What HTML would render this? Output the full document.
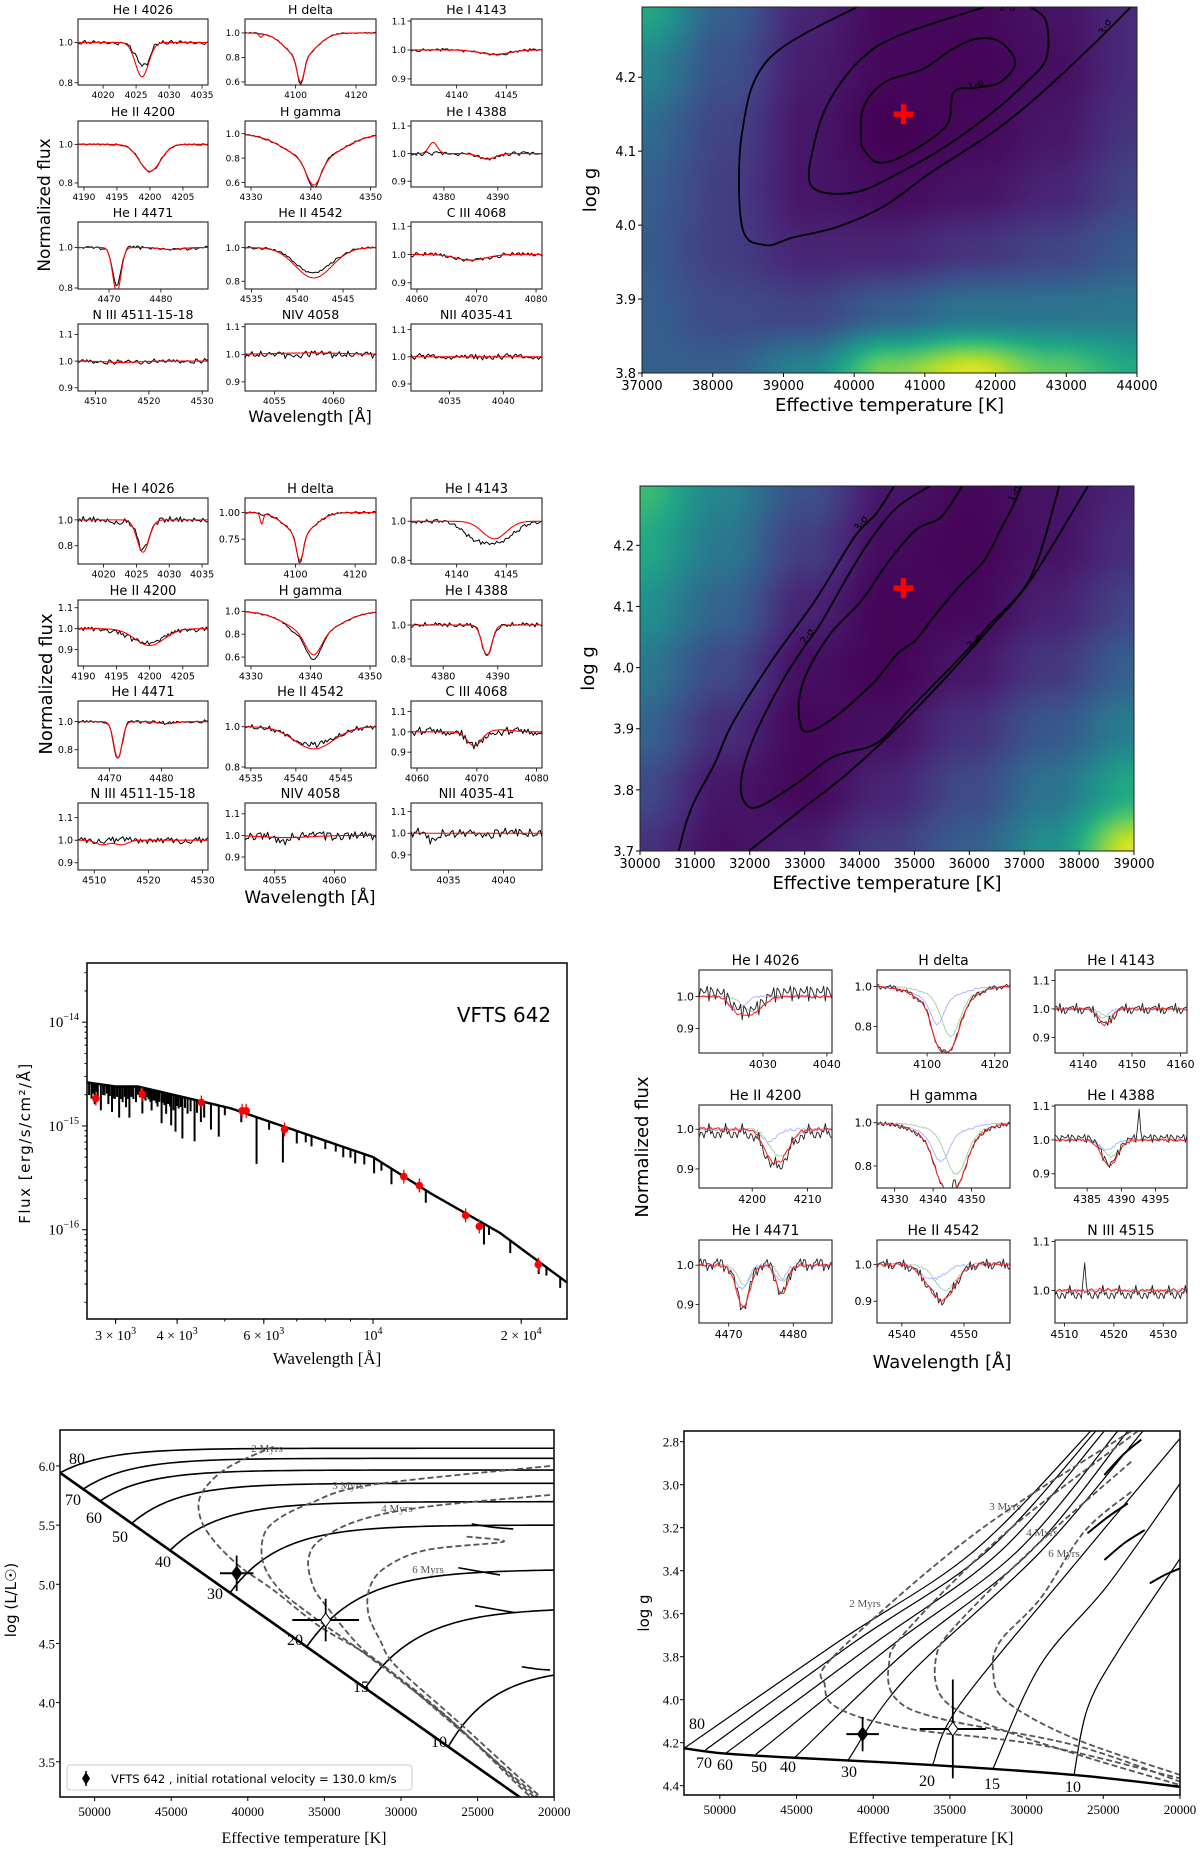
<!DOCTYPE html>
<html><head><meta charset="utf-8"><style>
body{margin:0;background:#fff}
#wrap{position:relative;width:1200px;height:1849px;overflow:hidden}
canvas,svg{position:absolute;left:0;top:0}
</style></head><body>
<div id="wrap">
<canvas id="cv" width="1200" height="1849"></canvas>
<svg id="sv" width="1200" height="1849" xmlns="http://www.w3.org/2000/svg"></svg>
</div>
<script>
// ---------------- DATA ----------------
const noise=[0.3,-0.5,0.8,-0.2,-0.9,0.4,0.1,-0.6,0.7,-0.3,0.9,-0.8,0.2,0.5,-0.4,-0.1,0.6,-0.7,0.3,-0.9,0.8,0.0,-0.5,0.4,-0.2,0.7,-0.6,0.1,0.9,-0.3,-0.8,0.5,0.2,-0.4,0.6,-0.1,-0.7,0.3,0.8,-0.5,0.1,-0.9,0.4,0.6,-0.2,-0.6,0.7,-0.3,0.2,-0.8];
const lineTitles=['He I 4026','H delta','He I 4143','He II 4200','H gamma','He I 4388','He I 4471','He II 4542','C III 4068','N III 4511-15-18','NIV 4058','NII 4035-41'];
const specXticks=[[4020,4025,4030,4035],[4100,4120],[4140,4145],[4190,4195,4200,4205],[4330,4340,4350],[4380,4390],[4470,4480],[4535,4540,4545],[4060,4070,4080],[4510,4520,4530],[4055,4060],[4035,4040]];
const r1Xlim=[[4016.2,4035.9],[4083.3,4126.6],[4135.4,4148.6],[4189.1,4208.8],[4329,4350.9],[4373.9,4398.2],[4464,4489.1],[4534.3,4548.6],[4059,4081],[4506.7,4531.1],[4052.5,4063.6],[4031.4,4043.6]];
const r1Ylim=[[0.789,1.116],[0.575,1.114],[0.879,1.107],[0.779,1.121],[0.564,1.104],[0.879,1.118],[0.795,1.126],[0.754,1.152],[0.878,1.115],[0.888,1.139],[0.867,1.11],[0.874,1.121]];
const r1Yticks=[['0.8','1.0'],['0.6','0.8','1.0'],['0.9','1.0','1.1'],['0.8','1.0'],['0.6','0.8','1.0'],['0.9','1.0','1.1'],['0.8','1.0'],['0.8','1.0'],['0.9','1.0','1.1'],['0.9','1.0','1.1'],['0.9','1.0','1.1'],['0.9','1.0','1.1']];
const r1Model=[[[4025.9,0.17,1.0]],[[4101.7,0.2,1.2],[4101.7,0.2,5],[4088.5,0.03,0.5]],[[4143.8,0.015,1.5]],[[4200,0.14,1.6]],[[4340.5,0.2,1.2],[4340.5,0.22,4.5]],[[4388,0.02,1.5],[4378,-0.04,0.8]],[[4471.5,0.22,0.8],[4482,0.01,2]],[[4541.8,0.18,2.0]],[[4069,0.02,2.5]],[[4515,0.005,3]],[[4058,-0.005,3]],[]];
const r1Obs=[[[4025.9,0.11,1.0],[4026.8,0.03,0.4]],[[4101.7,0.22,1.1],[4101.7,0.2,5]],[[4143.8,0.015,1.5]],[[4200,0.14,1.6]],[[4340.5,0.22,1.1],[4340.5,0.22,4.5]],[[4388,0.02,1.5]],[[4471.5,0.19,0.8],[4482,0.01,2]],[[4541.8,0.15,2.0]],[[4069,0.02,2.5]],[[4515,0.005,3]],[],[]];
const r1NoiseAmp=[0.012,0.008,0.006,0.006,0.008,0.008,0.01,0.01,0.008,0.01,0.014,0.014];
const r2Xlim=[[4016.1,4035.9],[4083.1,4127],[4135.4,4148.6],[4189.2,4208.8],[4329,4351],[4374.1,4398.1],[4463.9,4489],[4534.35,4548.9],[4059,4080.9],[4507,4531],[4052.5,4063.5],[4031.6,4043.5]];
const r2Ylim=[[0.659,1.169],[0.516,1.1375],[0.781,1.119],[0.822,1.137],[0.522,1.099],[0.759,1.147],[0.67,1.147],[0.795,1.128],[0.822,1.152],[0.868,1.165],[0.84,1.15],[0.83,1.14]];
const r2Yticks=[['0.8','1.0'],['0.75','1.00'],['0.8','1.0'],['0.9','1.0','1.1'],['0.6','0.8','1.0'],['0.8','1.0'],['0.8','1.0'],['0.8','1.0'],['0.9','1.0','1.1'],['0.9','1.0','1.1'],['0.9','1.0','1.1'],['0.9','1.0','1.1']];
const r2Model=[[[4026,0.25,0.9]],[[4101.5,0.25,1.2],[4101.5,0.2,5],[4088.7,0.1,0.5]],[[4143.8,0.09,1.2]],[[4200,0.08,2.2]],[[4340.5,0.18,1.3],[4340.5,0.2,4.2]],[[4388,0.18,0.9]],[[4471.6,0.26,0.8],[4481,0.015,1.5]],[[4542,0.11,2.2]],[[4069.6,0.07,1.2],[4074,-0.01,2]],[[4511.5,0.02,1.2],[4515,0.02,1.2]],[[4056,0.01,2]],[]];
const r2Obs=[[[4026,0.23,0.9],[4022,0.02,1]],[[4101.5,0.27,1.1],[4101.5,0.2,5],[4088.7,0.02,0.5]],[[4143.8,0.11,1.8],[4141.5,0.04,1]],[[4199.5,0.07,2.5]],[[4340.5,0.22,1.3],[4340.5,0.2,4.2],[4337,0.03,0.8]],[[4388,0.18,0.9]],[[4471.6,0.27,0.8],[4481,0.01,1.5]],[[4542,0.09,2.4]],[[4069.6,0.07,1.2]],[],[[4055.5,0.03,0.5]],[[4033.5,0.04,0.4]]];
const r2NoiseAmp=[0.025,0.012,0.012,0.014,0.008,0.014,0.012,0.014,0.025,0.018,0.022,0.022];
const r3Titles=['He I 4026','H delta','He I 4143','He II 4200','H gamma','He I 4388','He I 4471','He II 4542','N III 4515'];
const r3Xlim=[[4020,4040.8],[4085.2,4124.5],[4134.2,4161.3],[4190.4,4214.4],[4325.4,4360],[4380.3,4399.6],[4465.4,4486],[4536,4557.4],[4508.1,4534.8]];
const r3Ylim=[[0.823,1.083],[0.667,1.083],[0.845,1.137],[0.852,1.061],[0.698,1.082],[0.858,1.103],[0.853,1.064],[0.841,1.066],[0.934,1.103]];
const r3Xticks=[[4030,4040],[4100,4120],[4140,4150,4160],[4200,4210],[4330,4340,4350],[4385,4390,4395],[4470,4480],[4540,4550],[4510,4520,4530]];
const r3Yticks=[['0.9','1.0'],['0.8','1.0'],['0.9','1.0','1.1'],['0.9','1.0'],['0.8','1.0'],['0.9','1.0','1.1'],['0.9','1.0'],['0.9','1.0'],['1.0','1.1']];
const r3CompA=[[[4026,0.04,1.2]],[[4103,0.12,1.8],[4103,0.07,6]],[[4144,0.03,1.2]],[[4203,0.03,1.5]],[[4342,0.12,2],[4342,0.06,6]],[[4388,0.03,1]],[[4472,0.06,1],[4478,0.04,0.8]],[[4545,0.04,2]],[]];
const r3CompB=[[[4028.5,0.05,1.5]],[[4107,0.18,2.5],[4107,0.07,6]],[[4145,0.03,1.2]],[[4205,0.07,1.8]],[[4346,0.18,2.5],[4346,0.06,6]],[[4388.5,0.05,1.2]],[[4472.5,0.05,1],[4478.5,0.04,0.8]],[[4547,0.07,1.8]],[]];
const r3Spikes=[[],[],[],[],[[4345.5,-0.14,0.15]],[[4392.6,-0.08,0.15]],[],[],[[4514,-0.08,0.15]]];
const r3NoiseAmp=[0.03,0.012,0.02,0.02,0.01,0.015,0.015,0.015,0.015];
// heatmaps (viridis fraction grid, top row = max logg)
const h1Grid=[[0.6,0.3,0.1,0.02,0.02,0.05,0.12],[0.45,0.25,0.08,0.02,0.01,0.04,0.12],[0.35,0.2,0.06,0.0,0.02,0.06,0.15],[0.3,0.18,0.06,0.03,0.05,0.1,0.2],[0.28,0.18,0.1,0.1,0.15,0.2,0.28],[0.3,0.22,0.2,0.3,0.38,0.38,0.4],[0.3,0.3,0.45,0.8,0.95,0.75,0.6]];
const h2Grid=[[0.68,0.45,0.25,0.06,0.02,0.05,0.1],[0.6,0.4,0.18,0.03,0.01,0.05,0.13],[0.5,0.32,0.1,0.01,0.02,0.09,0.2],[0.4,0.22,0.04,0.01,0.06,0.16,0.3],[0.32,0.13,0.02,0.04,0.14,0.27,0.42],[0.22,0.06,0.02,0.1,0.22,0.38,0.6],[0.14,0.04,0.08,0.18,0.3,0.5,0.95]];
const h1C1=[[40103,4.107],[40320,4.085],[40701,4.094],[41299,4.134],[41409,4.180],[41735,4.186],[42062,4.193],[42279,4.220],[42062,4.248],[41735,4.252],[41354,4.236],[40973,4.211],[40429,4.193],[40124,4.157],[40103,4.107]];
const h1C2=[[41844,4.295],[40647,4.257],[40103,4.225],[39667,4.171],[39449,4.116],[39395,4.053],[39994,4.044],[40647,4.071],[41300,4.107],[41953,4.152],[42389,4.189],[42715,4.225],[42715,4.275],[42497,4.295]];
const h1C3=[[40081,4.297],[38796,4.225],[38415,4.125],[38415,3.998],[38742,3.973],[39123,3.983],[39776,3.998],[40429,4.026],[41082,4.071],[41953,4.125],[42606,4.175],[43368,4.243],[43913,4.295]];
const h1Best=[40700,4.15];
const h2C1=[[35873,4.297],[35481,4.246],[35023,4.225],[34500,4.170],[34042,4.110],[33519,4.061],[33126,4.007],[32930,3.963],[32897,3.920],[33028,3.895],[33519,3.917],[34238,3.974],[34696,4.023],[35023,4.045],[35350,4.083],[35808,4.132],[36266,4.175],[36593,4.230],[36789,4.263],[36952,4.297]];
const h2C2=[[35284,4.297],[34696,4.263],[34238,4.214],[33846,4.159],[33290,4.072],[32930,4.026],[32538,3.969],[32080,3.887],[31851,3.821],[31884,3.783],[32145,3.772],[32865,3.811],[33519,3.854],[34304,3.876],[34892,3.930],[35546,3.990],[36135,4.045],[36331,4.067],[37116,4.148],[37639,4.297]];
const h2C3a=[[34630,4.297],[34304,4.252],[33911,4.214],[33192,4.110],[32407,4.012],[31687,3.909],[31360,3.843],[31001,3.783],[30837,3.745],[30706,3.700]];
const h2C3b=[[31982,3.700],[32930,3.767],[33846,3.832],[34892,3.920],[35808,4.007],[36396,4.067],[37116,4.143],[38162,4.297]];
const h2Best=[34800,4.13];
// SED
const sedCont=[[2625,-14.58],[3000,-14.62],[3335,-14.62],[5140,-14.83],[10000,-15.30],[13100,-15.65],[18100,-16.03],[24800,-16.51]];
const sedSpikes=[[2650,0.12],[2680,0.15],[2700,0.1],[2720,0.2],[2740,0.08],[2760,0.12],[2800,0.25],[2830,0.1],[2850,0.1],[2880,0.08],[2900,0.18],[2920,0.1],[2950,0.25],[2970,0.12],[2990,0.12],[3020,0.1],[3050,0.3],[3070,0.12],[3100,0.15],[3130,0.1],[3150,0.2],[3180,0.12],[3200,0.3],[3230,0.1],[3260,0.12],[3300,0.15],[3330,0.08],[3360,0.1],[3400,0.25],[3430,0.1],[3450,0.12],[3480,0.08],[3500,0.1],[3530,0.12],[3550,0.2],[3580,0.1],[3600,0.1],[3630,0.12],[3650,0.15],[3680,0.1],[3720,0.3],[3750,0.1],[3770,0.12],[3800,0.2],[3820,0.1],[3840,0.1],[3870,0.12],[3890,0.3],[3930,0.15],[3970,0.35],[4000,0.1],[4030,0.12],[4070,0.1],[4100,0.4],[4150,0.1],[4200,0.15],[4260,0.12],[4340,0.4],[4390,0.12],[4470,0.2],[4540,0.15],[4686,0.25],[4860,0.3],[5000,0.08],[5400,0.1],[5800,0.45],[6150,0.08],[6560,0.35],[7000,0.12],[7300,0.08],[7500,0.1],[8000,0.08],[8400,0.07],[8700,0.1],[9000,0.08],[9200,0.12],[9600,0.1],[10050,0.15],[10400,0.08],[10900,0.15],[12800,0.12],[16800,0.2],[17200,0.08],[19000,0.12],[21700,0.12],[22500,0.08],[24000,0.1]];
const sedPhotW=[2735,3397,4480,5420,5525,6610,11550,12420,15420,16440,21660];
const sedPhotF=[-14.736,-14.694,-14.774,-14.854,-14.854,-15.034,-15.488,-15.574,-15.862,-15.968,-16.336];
// HRD
const hrdMass=[80,70,60,50,40,30,20,15,10];
const hrdT0=[52260,50740,49650,47580,45080,41160,36160,32330,26910];
const hrdL0=[5.943,5.805,5.704,5.515,5.286,4.928,4.471,4.123,3.628];
const hrdL1=[6.15,6.065,5.966,5.854,5.698,5.50,5.12,4.783,4.233];
const hrdTau=[3000,3000,3000,3000,3200,3200,3500,3500,3000];
const hrdZams=[[53500,6.056],[52260,5.943],[22450,3.219],[21000,3.087]];
const hrdHooks=[[[25385,5.51],[23975,5.482],[22670,5.468]],[[26260,5.14],[24500,5.10],[23540,5.079]],[[25170,4.819],[23900,4.79],[22560,4.76]],[[22120,4.303],[21200,4.285],[20270,4.275]]];
const hrdIso2=[[38333,6.163],[41380,5.980],[43011,5.769],[43120,5.572],[42250,5.374],[40509,5.149],[38333,4.952],[35288,4.642],[32024,4.388],[27237,3.909],[21798,3.233],[20300,3.09]];
const hrdIso3=[[20275,6.0],[32024,5.839],[35940,5.684],[38116,5.543],[38986,5.403],[38986,5.177],[37898,4.952],[35723,4.726],[31806,4.360],[26802,3.853],[21581,3.233],[20100,3.09]];
const hrdIso4=[[20275,5.755],[28325,5.656],[32677,5.543],[35288,5.374],[36049,5.205],[35723,4.980],[34852,4.811],[32677,4.473],[30501,4.247],[26150,3.768],[21363,3.233],[19900,3.09]];
const hrdIso6=[[25715,5.403],[23322,5.360],[28325,5.290],[30936,5.149],[32024,4.980],[32133,4.754],[31371,4.529],[30283,4.303],[26150,3.824],[21145,3.233],[19700,3.09]];
const hrdStar=[40727,5.093,1090,0.15];
const hrdStar2=[34917,4.698,2180,0.18];
// Kiel
const kielZams=[[52330,4.226],[49740,4.25],[45130,4.27],[36130,4.304],[26910,4.35],[19990,4.405]];
const kielTracks=[
[[52330,4.226],[42270,3.730],[33490,3.312],[25810,2.75]],
[[50940,4.234],[41180,3.730],[32620,3.312],[25480,2.75]],
[[49630,4.250],[40080,3.746],[31740,3.312],[24930,2.75]],
[[47650,4.254],[38760,3.746],[30640,3.312],[24060,2.75]],
[[45130,4.270],[37880,3.777],[29760,3.312],[23400,2.75]],
[[41610,4.278],[37880,3.901],[29100,3.312],[22410,2.75]],
[[36130,4.304],[34370,4.025],[26910,3.374],[19990,2.784]],
[[32180,4.319],[29100,3.839],[24710,3.467],[19990,2.994]],
[[26910,4.350],[26030,4.040],[24060,3.777],[19990,3.343]]];
const kielHooks=[[[24930,2.955],[23700,2.86],[22520,2.79]],[[26030,3.226],[24700,3.15],[23400,3.087]],[[24930,3.35],[23600,3.27],[22300,3.211]],[[21970,3.459],[21000,3.42],[19990,3.389]]];
const kielIso=[
[[23180,2.75],[33490,3.234],[42490,3.792],[43150,3.932],[42270,4.040],[37880,4.133],[29100,4.211],[19990,4.366]],
[[22740,2.75],[31300,3.219],[37880,3.684],[38980,3.839],[38540,3.994],[35690,4.087],[26910,4.211],[19990,4.381]],
[[23180,2.893],[29100,3.265],[34590,3.653],[35910,3.808],[35470,3.994],[32400,4.118],[26910,4.250],[19990,4.397]],
[[23180,3.033],[26250,3.219],[29100,3.529],[31740,3.730],[32180,3.870],[31300,4.009],[26910,4.180],[19990,4.350]]];
const kielStar=[40690,4.160,1060,0.08];
const kielStar2=[34810,4.136,2160,0.23];

// ---------------- HELPERS ----------------
const NS='http://www.w3.org/2000/svg';
const svg=document.getElementById('sv');
function mk(tag,name,parent){
  const e=document.createElementNS(NS,tag);
  
  
  (parent||svg).appendChild(e);return e;}
function at(e,o){for(const k in o)e.setAttribute(k,o[k]);return e;}
function txt(p,name,x,y,s,size,anchor,fam,rot,fill){
  const t=mk('text',name,p);
  at(t,{x:x,y:y,'font-size':size,'text-anchor':anchor||'middle','font-family':fam||'"DejaVu Sans","Liberation Sans",sans-serif',fill:fill||'#000'});
  if(rot)t.setAttribute('transform','rotate('+rot+' '+x+' '+y+')');
  t.textContent=s;return t;}
function poly(p,name,pts,color,w,dash){
  const e=mk('path',name,p);
  at(e,{d:'M'+pts.map(q=>q[0].toFixed(2)+','+q[1].toFixed(2)).join('L'),fill:'none',stroke:color,'stroke-width':w,'stroke-linejoin':'round'});
  if(dash)e.setAttribute('stroke-dasharray',dash);return e;}
function smooth(pts){
  let d='M'+pts[0][0].toFixed(2)+','+pts[0][1].toFixed(2);
  for(let i=0;i<pts.length-1;i++){
    const p0=pts[Math.max(0,i-1)],p1=pts[i],p2=pts[i+1],p3=pts[Math.min(pts.length-1,i+2)];
    const c1=[p1[0]+(p2[0]-p0[0])/6,p1[1]+(p2[1]-p0[1])/6],c2=[p2[0]-(p3[0]-p1[0])/6,p2[1]-(p3[1]-p1[1])/6];
    d+='C'+c1[0].toFixed(2)+','+c1[1].toFixed(2)+' '+c2[0].toFixed(2)+','+c2[1].toFixed(2)+' '+p2[0].toFixed(2)+','+p2[1].toFixed(2);}
  return d;}
function spath(p,name,pts,color,w,dash){
  const e=mk('path',name,p);
  at(e,{d:smooth(pts),fill:'none',stroke:color,'stroke-width':w});
  if(dash)e.setAttribute('stroke-dasharray',dash);return e;}
let clipN=0;
function clip(p,x0,y0,x1,y1){
  const id='c'+(clipN++);
  const c=mk('clipPath','clip-region',p);c.setAttribute('id',id);
  at(mk('rect','clip-rect',c),{x:x0,y:y0,width:x1-x0,height:y1-y0});
  const g=mk('g','clipped-series',p);g.setAttribute('clip-path','url(#'+id+')');return g;}
function prof(x,lines){let v=1;for(const l of lines)v-=l[1]*Math.exp(-(x-l[0])*(x-l[0])/(2*l[2]*l[2]));return v;}

function specPanel(name,x0,y0,x1,y1,xl,yl,xt,yt,title,opt){
  const g=mk('g',name);
  const sx=v=>x0+(v-xl[0])/(xl[1]-xl[0])*(x1-x0), sy=v=>y1-(v-yl[0])/(yl[1]-yl[0])*(y1-y0);
  const fs=opt.fs||10, tf=opt.tf||13, fam=opt.fam;
  txt(g,'panel-title',(x0+x1)/2,y0-5,title,tf,'middle',fam);
  for(const t of xt){const x=sx(t);at(mk('line','x-tick',g),{x1:x,x2:x,y1:y1,y2:y1+3.5,stroke:'#000','stroke-width':0.8});
    txt(g,'x-tick-label',x,y1+4+fs,String(t),fs,'middle',fam);}
  for(const s of yt){const y=sy(parseFloat(s));at(mk('line','y-tick',g),{x1:x0,x2:x0-3.5,y1:y,y2:y,stroke:'#000','stroke-width':0.8});
    txt(g,'y-tick-label',x0-5,y+fs*0.36,s,fs,'end',fam);}
  const cg=clip(g,x0,y0,x1,y1);
  at(mk('rect','panel-frame',g),{x:x0,y:y0,width:x1-x0,height:y1-y0,fill:'none',stroke:'#222','stroke-width':1.1});
  return {g:cg,sx,sy};}

function drawSpecRow(prefix,cols,rows,xlims,ylims,xticks,yticks,titles,model,obs,namp,pidx0,opt){
  for(let i=0;i<titles.length;i++){
    const c=cols[i%3],r=rows[Math.floor(i/3)];
    const P=specPanel(prefix+'-panel-'+i,c[0],r[0],c[1],r[1],xlims[i],ylims[i],xticks[i],yticks[i],titles[i],opt);
    const xl=xlims[i],n=opt.n||75;
    const ob=[],mo=[];
    for(let k=0;k<=n;k++){const x=xl[0]+(xl[1]-xl[0])*k/n;
      const nz=noise[(k*7+(i+pidx0)*13)%noise.length]*0.7+noise[(k*3+i*5+11)%noise.length]*0.5;
      ob.push([P.sx(x),P.sy(prof(x,obs[i])+namp[i]*nz)]);}
    for(let k=0;k<=200;k++){const x=xl[0]+(xl[1]-xl[0])*k/200;mo.push([P.sx(x),P.sy(prof(x,model[i]))]);}
    poly(P.g,'observed-spectrum',ob,'#000',1);
    poly(P.g,'model-spectrum',mo,'#f00',1.1);
  }}

// ---------------- ROW 1 & 2 ----------------
const C12=[[78,208],[245,376],[411,542]];
const R1=[[19,85],[121,187],[222,289],[324,391]];
const R2=R1.map(r=>[r[0]+479,r[1]+479]);
drawSpecRow('fit1',C12,R1,r1Xlim,r1Ylim,specXticks,r1Yticks,lineTitles,r1Model,r1Obs,r1NoiseAmp,0,{fs:9,tf:12.5});
drawSpecRow('fit2',C12,R2,r2Xlim,r2Ylim,specXticks,r2Yticks,lineTitles,r2Model,r2Obs,r2NoiseAmp,3,{fs:9.5,tf:13});
txt(svg,'y-axis-title-fit1',50,205,'Normalized flux',17,'middle',null,-90);
txt(svg,'x-axis-title-fit1',310,422,'Wavelength [Å]',16,'middle');
txt(svg,'y-axis-title-fit2',52,684,'Normalized flux',18,'middle',null,-90);
txt(svg,'x-axis-title-fit2',310,903,'Wavelength [Å]',17,'middle');

// ---------------- HEATMAPS ----------------
const vir=[[68,1,84],[72,36,117],[65,68,135],[53,95,141],[42,120,142],[33,145,140],[34,168,132],[68,191,112],[122,209,81],[189,223,38],[253,231,37]];
function viridis(v){v=Math.max(0,Math.min(1,v))*10;const i=Math.min(9,Math.floor(v)),f=v-i;return vir[i].map((c,j)=>c+(vir[i+1][j]-c)*f);}
const ctx=document.getElementById('cv').getContext('2d');
function heat(x0,y0,x1,y1,grid){
  const w=x1-x0,h=y1-y0,img=ctx.createImageData(w,h),nr=grid.length,nc=grid[0].length;
  for(let py=0;py<h;py++)for(let px=0;px<w;px++){
    const u=px/(w-1)*(nc-1),v=py/(h-1)*(nr-1);
    const i=Math.min(nc-2,Math.floor(u)),j=Math.min(nr-2,Math.floor(v)),fu=u-i,fv=v-j;
    const su=fu*fu*(3-2*fu),sv=fv*fv*(3-2*fv);
    const val=grid[j][i]*(1-su)*(1-sv)+grid[j][i+1]*su*(1-sv)+grid[j+1][i]*(1-su)*sv+grid[j+1][i+1]*su*sv;
    const c=viridis(val),k=(py*w+px)*4;img.data[k]=c[0];img.data[k+1]=c[1];img.data[k+2]=c[2];img.data[k+3]=255;}
  ctx.putImageData(img,x0,y0);}
function heatPanel(name,x0,y0,x1,y1,Tl,gl,grid,xt,yt,conts,labels,best){
  heat(x0,y0,x1,y1,grid);
  const g=mk('g',name);
  const sx=T=>x0+(T-Tl[0])/(Tl[1]-Tl[0])*(x1-x0), sy=v=>y1-(v-gl[0])/(gl[1]-gl[0])*(y1-y0);
  const cg=clip(g,x0,y0,x1,y1);
  for(const c of conts)spath(cg,'sigma-contour',c.map(p=>[sx(p[0]),sy(p[1])]),'#000',1.8);
  for(const l of labels){txt(cg,'contour-label',sx(l[0]),sy(l[1]),l[2],10,'middle',null,l[3]);}
  const bx=sx(best[0]),by=sy(best[1]);
  at(mk('rect','best-fit-marker-h',g),{x:bx-10,y:by-2.7,width:20,height:5.4,fill:'#f00'});
  at(mk('rect','best-fit-marker-v',g),{x:bx-2.7,y:by-10,width:5.4,height:20,fill:'#f00'});
  at(mk('rect','heatmap-frame',g),{x:x0,y:y0,width:x1-x0,height:y1-y0,fill:'none',stroke:'#222','stroke-width':1});
  for(const t of xt){const x=sx(t);at(mk('line','x-tick',g),{x1:x,x2:x,y1:y1,y2:y1+4,stroke:'#000'});txt(g,'x-tick-label',x,y1+17,String(t),13);}
  for(const t of yt){const y=sy(t);at(mk('line','y-tick',g),{x1:x0,x2:x0-4,y1:y,y2:y,stroke:'#000'});txt(g,'y-tick-label',x0-6,y+5,t.toFixed(1),13,'end');}
  txt(g,'x-axis-title',(x0+x1)/2,y1+38,'Effective temperature [K]',18);
  txt(g,'y-axis-title',x0-46,(y0+y1)/2,'log g',18,'middle',null,-90);
}
heatPanel('chi2-map-1',642,7,1137,373,[37000,44000],[3.8,4.295],h1Grid,[37000,38000,39000,40000,41000,42000,43000,44000],[3.8,3.9,4.0,4.1,4.2],[h1C1,h1C2,h1C3],[[41735,4.186,'1-σ',-20],[42170,4.29,'2-σ',0],[43590,4.266,'3-σ',-62]],h1Best);
heatPanel('chi2-map-2',640,486,1134,851,[30000,39000],[3.7,4.297],h2Grid,[30000,31000,32000,33000,34000,35000,36000,37000,38000,39000],[3.7,3.8,3.9,4.0,4.1,4.2],[h2C1,h2C2,h2C3a,h2C3b],[[34075,4.233,'3-σ',-55],[33093,4.048,'2-σ',-55],[36874,4.282,'1-σ',-65],[36135,4.039,'3-σ',-45]],h2Best);

// ---------------- SED ----------------
(function(){
  const g=mk('g','sed-plot');
  const x0=87,x1=567,y0=963,y1=1319,lx0=3.419,lx1=4.394,ly0=-16.86,ly1=-13.43;
  const sx=w=>x0+(Math.log10(w)-lx0)/(lx1-lx0)*(x1-x0), sy=f=>y1-(f-ly0)/(ly1-ly0)*(y1-y0);
  const cont=w=>{const l=Math.log10(w);for(let i=0;i<sedCont.length-1;i++){const a=Math.log10(sedCont[i][0]),b=Math.log10(sedCont[i+1][0]);if(l<=b||i==sedCont.length-2){const f=(l-a)/(b-a);return sedCont[i][1]+(sedCont[i+1][1]-sedCont[i][1])*f;}}};
  const cg=clip(g,x0,y0,x1,y1);
  const pts=[];for(let k=0;k<=300;k++){const w=Math.pow(10,lx0+(lx1-lx0)*k/300);pts.push([sx(w),sy(cont(w))]);}
  poly(cg,'sed-model',pts,'#000',2.4);
  for(const s of sedSpikes){const x=sx(s[0]);at(mk('line','sed-absorption-line',cg),{x1:x,x2:x,y1:sy(cont(s[0])),y2:sy(cont(s[0])-s[1]),stroke:'#000','stroke-width':2});}
  for(let i=0;i<sedPhotW.length;i++){const x=sx(sedPhotW[i]),y=sy(sedPhotF[i]);
    at(mk('line','photometry-errorbar',cg),{x1:x,x2:x,y1:y-7,y2:y+7,stroke:'#f00','stroke-width':1.3});
    at(mk('circle','photometry-point',cg),{cx:x,cy:y,r:3.8,fill:'#f00'});}
  at(mk('rect','sed-frame',g),{x:x0,y:y0,width:x1-x0,height:y1-y0,fill:'none',stroke:'#111','stroke-width':1.6});
  const F='"Liberation Serif",serif';
  for(let d=-17;d<=-13;d++)for(let m=1;m<10;m++){const f=d+Math.log10(m);if(f<ly0||f>ly1)continue;const y=sy(f);
    at(mk('line','y-tick',g),{x1:x0,x2:x0-(m==1?5:2.5),y1:y,y2:y,stroke:'#000'});
    if(m==1){const t=txt(g,'y-tick-label',x0-8,y+5,'10',15,'end',F);const s=mk('tspan','exponent',t);at(s,{dy:-7,'font-size':10});s.textContent='−'+(-d);}}
  const xl=[[3000,'3 × 10'],[4000,'4 × 10'],[6000,'6 × 10'],[10000,'10'],[20000,'2 × 10']];
  for(let w=3000;w<=24000;w+=(w<10000?1000:10000)){const x=sx(w);if(x<x0)continue;at(mk('line','x-tick',g),{x1:x,x2:x,y1:y1,y2:y1+2.5,stroke:'#000'});}
  for(const l of xl){const x=sx(l[0]);at(mk('line','x-tick',g),{x1:x,x2:x,y1:y1,y2:y1+5,stroke:'#000'});
    const t=txt(g,'x-tick-label',x,y1+21,l[1],14,'middle',F);const s=mk('tspan','exponent',t);at(s,{dy:-6,'font-size':10});s.textContent=(l[0]>=10000?'4':'3');}
  txt(g,'sed-star-label',504,1022,'VFTS 642',20,'middle','"DejaVu Sans",sans-serif');
  txt(g,'x-axis-title',327,1364,'Wavelength [Å]',17,'middle',F);
  const yt=txt(g,'y-axis-title',30,1143,'Flux [erg/s/cm²/Å]',15,'middle','"DejaVu Sans",sans-serif',-90);yt.setAttribute('letter-spacing','1.5');
})();

// ---------------- ROW 3 RIGHT ----------------
(function(){
  const cols=[[699,832],[877,1010],[1055,1187]],rows=[[970,1053],[1105,1188],[1240,1323]];
  for(let i=0;i<9;i++){
    const c=cols[i%3],r=rows[Math.floor(i/3)];
    const P=specPanel('binary-fit-panel-'+i,c[0],r[0],c[1],r[1],r3Xlim[i],r3Ylim[i],r3Xticks[i],r3Yticks[i],r3Titles[i],{fs:11,tf:14,fam:'"DejaVu Sans",sans-serif'});
    const xl=r3Xlim[i],red=[],blu=[],grn=[],blk=[];
    const both=r3CompA[i].concat(r3CompB[i]);
    for(let k=0;k<=80;k++){const x=xl[0]+(xl[1]-xl[0])*k/80;
      const nz=noise[(k*7+i*13)%50]*0.6+noise[(k*3+i*5+7)%50]*0.5;
      blu.push([P.sx(x),P.sy(prof(x,r3CompA[i])+0.004*noise[(k*11+3)%50])]);
      grn.push([P.sx(x),P.sy(prof(x,r3CompB[i])+0.004*noise[(k*9+5)%50])]);
      red.push([P.sx(x),P.sy(prof(x,both)+0.006*nz)]);
      blk.push([P.sx(x),P.sy(prof(x,both.concat(r3Spikes[i]))+r3NoiseAmp[i]*noise[(k*5+i*17+3)%50]*1.2)]);}
    poly(P.g,'component-b-model',grn,'#9fd09f',0.9);
    poly(P.g,'component-a-model',blu,'#a9b0ff',0.9);
    poly(P.g,'observed-spectrum',blk,'#222',0.9);
    poly(P.g,'combined-model',red,'#f22',1);
  }
  txt(svg,'y-axis-title-binary',648,1147,'Normalized flux',18,'middle','"DejaVu Sans",sans-serif',-90);
  txt(svg,'x-axis-title-binary',942,1368,'Wavelength [Å]',18,'middle','"DejaVu Sans",sans-serif');
})();

// ---------------- HRD ----------------
const SER='"Liberation Serif",serif';
function starMarks(g,sx,sy,st,filled){
  const x=sx(st[0]),y=sy(st[1]),xa=sx(st[0]-st[2]),xb=sx(st[0]+st[2]),ya=sy(st[1]-st[3]),yb=sy(st[1]+st[3]);
  at(mk('line','star-xerr',g),{x1:xa,x2:xb,y1:y,y2:y,stroke:'#000','stroke-width':2});
  at(mk('line','star-yerr',g),{x1:x,x2:x,y1:ya,y2:yb,stroke:'#000','stroke-width':1.8});
  at(mk('path','star-marker',g),{d:'M'+x+','+(y-7)+'L'+(x+5)+','+y+'L'+x+','+(y+7)+'L'+(x-5)+','+y+'Z',fill:filled?'#000':'#fff',stroke:'#000','stroke-width':1});}
(function(){
  const g=mk('g','hr-diagram');
  const x0=60,x1=554,y0=1430,y1=1797;
  const sx=T=>94.6+(50000-T)*0.01532, sy=L=>1466+(6-L)*118.3;
  const cg=clip(g,x0,y0,x1,y1);
  for(let i=0;i<hrdMass.length;i++){const pts=[];const T0=hrdT0[i],D=T0-20000,norm=1-Math.exp(-D/hrdTau[i]);
    for(let k=0;k<=60;k++){const T=T0-D*k/60;const L=hrdL0[i]+(hrdL1[i]-hrdL0[i])*(1-Math.exp(-(T0-T)/hrdTau[i]))/norm;pts.push([sx(T),sy(L)]);}
    poly(cg,'evolutionary-track-'+hrdMass[i],pts,'#000',1.6);}
  for(const h of hrdHooks)spath(cg,'track-hook',h.map(p=>[sx(p[0]),sy(p[1])]),'#000',1.6);
  const iso=[hrdIso2,hrdIso3,hrdIso4,hrdIso6];
  for(const s of iso)spath(cg,'isochrone',s.map(p=>[sx(p[0]),sy(p[1])]),'#555',1.8,'6,3');
  poly(cg,'zams',hrdZams.map(p=>[sx(p[0]),sy(p[1])]),'#000',2.6);
  starMarks(cg,sx,sy,hrdStar,true);starMarks(cg,sx,sy,hrdStar2,false);
  at(mk('rect','hrd-frame',g),{x:x0,y:y0,width:x1-x0,height:y1-y0,fill:'none',stroke:'#111','stroke-width':1.6});
  for(let T=50000;T>=20000;T-=5000){const x=sx(T);at(mk('line','x-tick',g),{x1:x,x2:x,y1:y1,y2:y1+4,stroke:'#000'});txt(g,'x-tick-label',x,y1+19,String(T),13,'middle',SER);}
  for(let L=3.5;L<=6.01;L+=0.5){const y=sy(L);at(mk('line','y-tick',g),{x1:x0,x2:x0-4,y1:y,y2:y,stroke:'#000'});txt(g,'y-tick-label',x0-5,y+5,L.toFixed(1),13,'end',SER);}
  const ml=[[80,77,1464],[70,73,1505],[60,94,1523],[50,120,1542],[40,163,1567],[30,215,1599],[20,295,1645],[15,361,1692],[10,439,1747]];
  for(const m of ml)txt(g,'mass-label',m[1],m[2],String(m[0]),16,'middle',SER);
  const il=[['2 Myrs',267,1452],['3 Myrs',348,1489],['4 Myrs',397,1512],['6 Myrs',428,1573]];
  for(const l of il)txt(g,'isochrone-label',l[1],l[2],l[0],11,'middle',SER,0,'#555');
  at(mk('rect','legend-box',g),{x:67,y:1765,width:345,height:25,fill:'#fff',stroke:'#ccc','stroke-width':1,rx:3});
  at(mk('line','legend-marker-bar',g),{x1:86,x2:86,y1:1771,y2:1786,stroke:'#000','stroke-width':1.5});
  at(mk('path','legend-marker',g),{d:'M86,1772L90,1778.5L86,1785L82,1778.5Z',fill:'#000'});
  txt(g,'legend-label',111,1783,'VFTS 642 , initial rotational velocity = 130.0 km/s',11.5,'start','"DejaVu Sans",sans-serif');
  txt(g,'x-axis-title',304,1843,'Effective temperature [K]',16,'middle',SER);
  txt(g,'y-axis-title',16,1600,'log (L/L☉)',15,'middle','"DejaVu Sans",sans-serif',-90);
})();

// ---------------- KIEL ----------------
(function(){
  const g=mk('g','kiel-diagram');
  const x0=684,x1=1180,y0=1431,y1=1795;
  const sx=T=>719.8+(50000-T)*0.01534, sy=v=>1441.7+(v-2.8)*215;
  const cg=clip(g,x0,y0,x1,y1);
  for(let i=0;i<kielTracks.length;i++)spath(cg,'evolutionary-track-'+hrdMass[i],kielTracks[i].map(p=>[sx(p[0]),sy(p[1])]),'#000',1.2);
  for(const h of kielHooks)spath(cg,'track-hook',h.map(p=>[sx(p[0]),sy(p[1])]),'#000',2);
  for(const s of kielIso)spath(cg,'isochrone',s.map(p=>[sx(p[0]),sy(p[1])]),'#555',1.8,'6,3');
  spath(cg,'zams',kielZams.map(p=>[sx(p[0]),sy(p[1])]),'#000',2.4);
  starMarks(cg,sx,sy,kielStar,true);starMarks(cg,sx,sy,kielStar2,false);
  at(mk('rect','kiel-frame',g),{x:x0,y:y0,width:x1-x0,height:y1-y0,fill:'none',stroke:'#111','stroke-width':1.6});
  for(let T=50000;T>=20000;T-=5000){const x=sx(T);at(mk('line','x-tick',g),{x1:x,x2:x,y1:y1,y2:y1+4,stroke:'#000'});txt(g,'x-tick-label',x,y1+19,String(T),13,'middle',SER);}
  for(let v=2.8;v<=4.401;v+=0.2){const y=sy(v);at(mk('line','y-tick',g),{x1:x0,x2:x0-4,y1:y,y2:y,stroke:'#000'});txt(g,'y-tick-label',x0-5,y+5,v.toFixed(1),13,'end',SER);}
  const ml=[[80,697,1729],[70,704,1768],[60,725,1770],[50,759,1772],[40,788,1772],[30,849,1777],[20,927,1786],[15,992,1789],[10,1073,1792]];
  for(const m of ml)txt(g,'mass-label',m[1],m[2],String(m[0]),16,'middle',SER);
  const il=[['3 Myrs',1005,1510],['4 Myrs',1042,1536],['6 Myrs',1064,1557],['2 Myrs',865,1607]];
  for(const l of il)txt(g,'isochrone-label',l[1],l[2],l[0],11,'middle',SER,0,'#555');
  txt(g,'x-axis-title',931,1843,'Effective temperature [K]',16,'middle',SER);
  txt(g,'y-axis-title',649,1613,'log g',15,'middle','"DejaVu Sans",sans-serif',-90);
})();
</script>
</body></html>
